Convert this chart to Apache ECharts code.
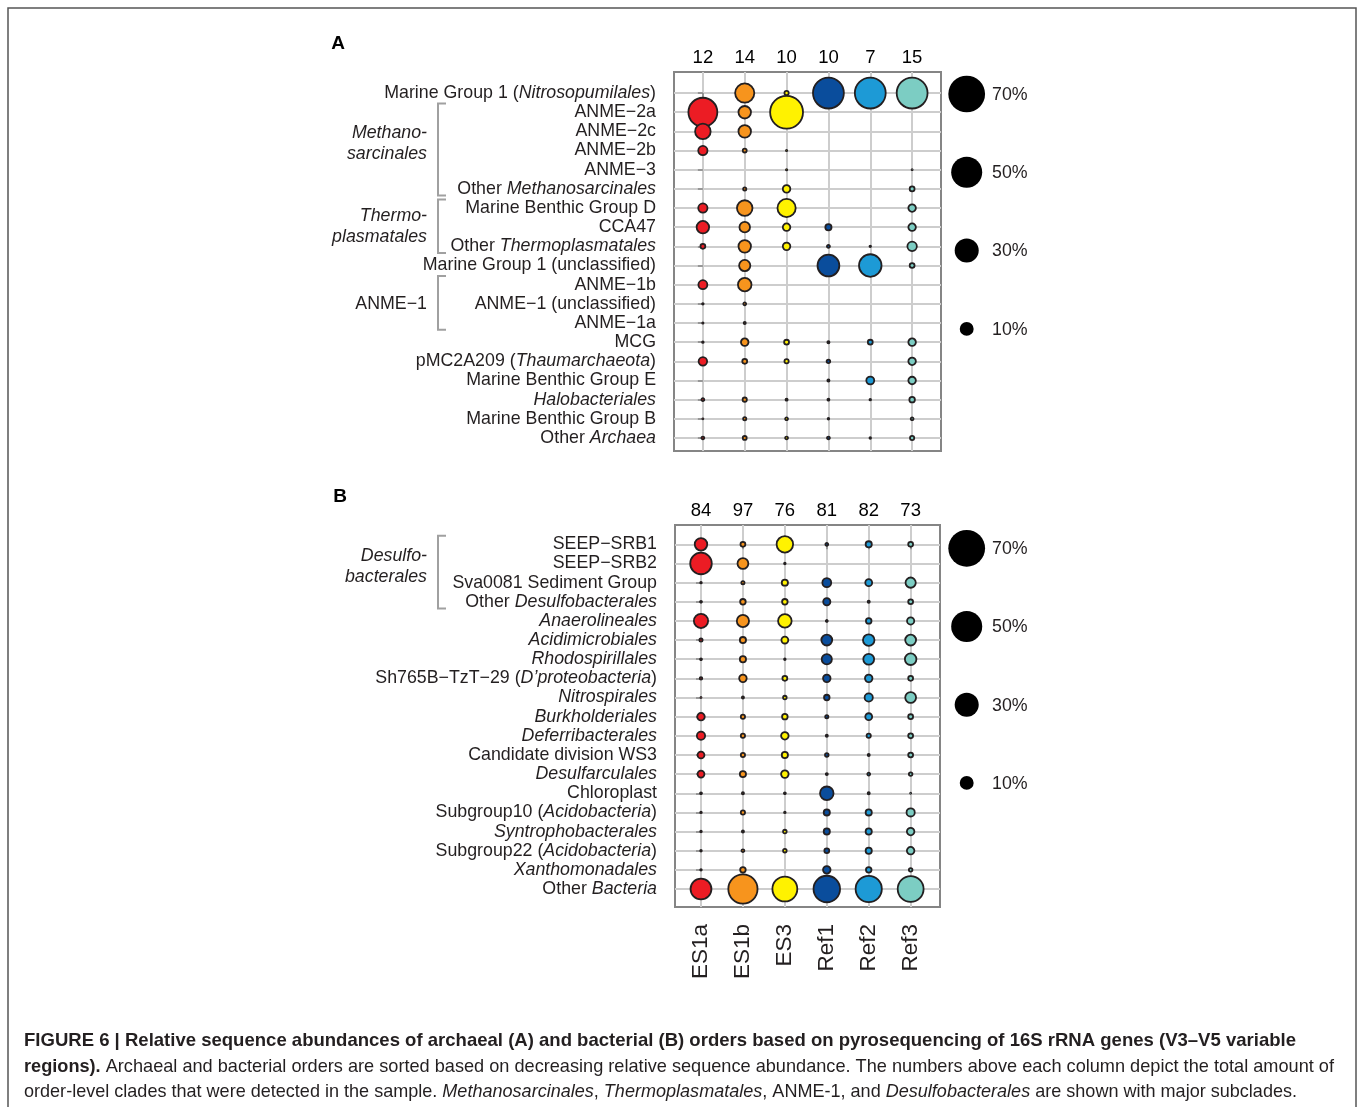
<!DOCTYPE html>
<html>
<head>
<meta charset="utf-8">
<script src="https://cdn.jsdelivr.net/npm/echarts@6/dist/echarts.min.js"></script>
<style>
  html, body { margin: 0; padding: 0; background: #fff; }
  #chart { width: 1360px; height: 1107px; }
</style>
</head>
<body>
<div id="chart"></div>
<script>
// samples (columns) and their colours
const samples = ['ES1a', 'ES1b', 'ES3', 'Ref1', 'Ref2', 'Ref3'];
const sampleColors = ['#ec1c24', '#f7941d', '#fff200', '#0a4d9c', '#1d9ad6', '#7ccdc3'];

// number of order-level clades per sample (shown above the columns)
const archaeaCounts = [12, 14, 10, 10, 7, 15];
const bacteriaCounts = [84, 97, 76, 81, 82, 73];

// row labels, {i|...} = italic part
const archaeaOrders = [
  'Marine Group 1 ({i|Nitrosopumilales})',
  'ANME\u22122a',
  'ANME\u22122c',
  'ANME\u22122b',
  'ANME\u22123',
  'Other {i|Methanosarcinales}',
  'Marine Benthic Group D',
  'CCA47',
  'Other {i|Thermoplasmatales}',
  'Marine Group 1 (unclassified)',
  'ANME\u22121b',
  'ANME\u22121 (unclassified)',
  'ANME\u22121a',
  'MCG',
  'pMC2A209 ({i|Thaumarchaeota})',
  'Marine Benthic Group E',
  '{i|Halobacteriales}',
  'Marine Benthic Group B',
  'Other {i|Archaea}'
];
const bacteriaOrders = [
  'SEEP\u2212SRB1',
  'SEEP\u2212SRB2',
  'Sva0081 Sediment Group',
  'Other {i|Desulfobacterales}',
  '{i|Anaerolineales}',
  '{i|Acidimicrobiales}',
  '{i|Rhodospirillales}',
  'Sh765B\u2212TzT\u221229 ({i|D\u2019proteobacteria})',
  '{i|Nitrospirales}',
  '{i|Burkholderiales}',
  '{i|Deferribacterales}',
  'Candidate division WS3',
  '{i|Desulfarculales}',
  'Chloroplast',
  'Subgroup10 ({i|Acidobacteria})',
  '{i|Syntrophobacterales}',
  'Subgroup22 ({i|Acidobacteria})',
  '{i|Xanthomonadales}',
  'Other {i|Bacteria}'
];

// relative sequence abundance (%), one array per sample, rows as above; 0 = not detected
const archaeaValues = [
  [0, 49, 15.6, 6.3, 0, 0, 6.3, 10.6, 2.3, 0, 6, 0.6, 0.5, 0.6, 5.5, 0, 1.1, 0.4, 1.1],      // ES1a
  [22.9, 10.6, 10.6, 1.7, 0, 1.3, 15.6, 7.9, 10.6, 8.8, 12.2, 1.1, 0.8, 4.5, 2.3, 0, 1.9, 1.3, 1.7], // ES1b
  [1.9, 62.4, 0, 0.5, 0.5, 4.5, 20.8, 4.5, 4.5, 0, 0, 0, 0, 2.3, 1.9, 0, 0.8, 1.1, 1.1],     // ES3
  [55.4, 0, 0, 0, 0, 0, 0, 3.3, 1.2, 29, 0, 0, 0, 0.8, 1.5, 0.8, 0.7, 0.6, 1.1],             // Ref1
  [55.4, 0, 0, 0, 0, 0, 0, 0, 0.6, 30.7, 0, 0, 0, 2.3, 0, 4.9, 0.6, 0, 0.6],                 // Ref2
  [55.4, 0, 0, 0, 0.4, 2.3, 4.5, 4.5, 6.6, 2.3, 0, 0, 0, 4.5, 4.5, 4.5, 2.8, 1.1, 1.9]        // Ref3
];
const bacteriaValues = [
  [10.6, 28.3, 0.6, 0.7, 13.3, 1.3, 0.7, 1, 0.4, 4.5, 5.2, 3.9, 3.9, 0.7, 0.6, 0.6, 0.6, 0.6, 26.7], // ES1a
  [2.3, 8.3, 1.3, 2.8, 10.2, 3.3, 3.3, 4.5, 0.8, 1.9, 1.9, 1.9, 3.3, 0.8, 1.9, 0.8, 1.1, 2.8, 49.9], // ES1b
  [17.4, 0.6, 3.3, 2.8, 12.2, 3.9, 0.6, 2.3, 1.5, 2.8, 4.5, 3.3, 4.5, 0.7, 0.6, 1.5, 1.5, 0, 37],    // ES3
  [1.1, 0, 5.9, 4.2, 0.7, 8.3, 7.5, 4.5, 2.8, 1.3, 0.8, 1.5, 0.8, 12.2, 3.3, 3.3, 2.3, 4.5, 41.6],  // Ref1
  [3.3, 0, 3.9, 0.8, 2.8, 9.2, 8.3, 4.5, 5.2, 3.9, 1.9, 0.8, 1.1, 0.8, 3.3, 3.3, 3.3, 2.8, 40.7],  // Ref2
  [2.3, 0, 7.5, 2.3, 4.2, 8.3, 9.2, 2.3, 8.3, 2.3, 2.3, 2.3, 1.5, 0.4, 5.2, 4.5, 4.5, 1.5, 39.8]   // Ref3
];

// size key
const sizeLegend = [70, 50, 30, 10];

// bracketed groups of rows
const archaeaGroups = [
  { text: 'Methano-\nsarcinales', italic: true, from: 1, to: 5, labelRow: 2.65 },
  { text: 'Thermo-\nplasmatales', italic: true, from: 6, to: 8, labelRow: 6.95 },
  { text: 'ANME\u22121', italic: false, from: 10, to: 12, labelRow: 11 }
];
const bacteriaGroups = [
  { text: 'Desulfo-\nbacterales', italic: true, from: 0, to: 3, labelRow: 1.15 }
];

const textColor = '#231f20';
const font = 'Liberation Sans, Arial, sans-serif';
const labelSize = 17.8;
const ring = 1.8;                          // bubble outline width
const bubble = p => 4.39 * Math.sqrt(p);   // outer diameter in px
const rowIdx = archaeaOrders.map((d, i) => i);
const colIdx = samples.map((d, i) => i);

const chart = echarts.init(document.getElementById('chart'));

function makeGrid(left, top, width, height) {
  return {
    left: left, top: top, width: width, height: height,
    show: true, borderColor: '#858585', borderWidth: 2,
    outerBoundsMode: 'none', containLabel: false
  };
}

const gridLine = { show: true, lineStyle: { color: '#cdcdcd', width: 2 } };
const tickStyle = { show: true, length: 5, inside: false, lineStyle: { color: '#858585', width: 1.5 } };

function bottomAxis(gridIndex, min, max, showNames) {
  return {
    type: 'value', gridIndex: gridIndex, position: 'bottom', min: min, max: max,
    axisLine: { show: false },
    axisTick: Object.assign({ customValues: colIdx }, tickStyle),
    axisLabel: {
      show: showNames, customValues: colIdx, rotate: 90, margin: 17,
      fontSize: 22.5, color: textColor, fontFamily: font,
      formatter: v => samples[Math.round(v)]
    },
    splitLine: gridLine
  };
}
function topAxis(gridIndex, min, max, counts) {
  return {
    type: 'value', gridIndex: gridIndex, position: 'top', min: min, max: max,
    axisLine: { show: false }, axisTick: { show: false }, splitLine: { show: false },
    axisLabel: {
      customValues: colIdx, margin: 5, fontSize: 18.5, color: '#000', fontFamily: font,
      formatter: v => counts[Math.round(v)]
    }
  };
}
function rowAxis(gridIndex, min, max, labels) {
  return {
    type: 'value', gridIndex: gridIndex, inverse: true, min: min, max: max,
    axisLine: { show: false },
    axisTick: Object.assign({ customValues: rowIdx }, tickStyle),
    axisLabel: {
      customValues: rowIdx, margin: 18, fontSize: labelSize, color: textColor, fontFamily: font,
      formatter: v => labels[Math.round(v)],
      rich: { i: { fontStyle: 'italic', fontSize: labelSize, color: textColor, fontFamily: font } }
    },
    splitLine: gridLine
  };
}

function panelSeries(values, xAxisIndex, yAxisIndex) {
  return samples.map((s, c) => ({
    name: s,
    type: 'scatter',
    xAxisIndex: xAxisIndex,
    yAxisIndex: yAxisIndex,
    silent: true,
    z: 3,
    data: values[c].map((v, r) => (v > 0 ? [c, r, v] : null)).filter(d => d),
    symbolSize: d => Math.max(bubble(d[2]) - ring, 1),
    itemStyle: { color: sampleColors[c], borderColor: textColor, borderWidth: ring, opacity: 1 }
  }));
}

chart.setOption({
  backgroundColor: '#fff',
  animation: false,
  grid: [makeGrid(674, 72, 267, 379), makeGrid(675, 525, 265, 382)],
  xAxis: [
    bottomAxis(0, -0.69, 5.69, false),
    topAxis(0, -0.69, 5.69, archaeaCounts),
    bottomAxis(1, -0.62, 5.7, true),
    topAxis(1, -0.62, 5.7, bacteriaCounts)
  ],
  yAxis: [
    rowAxis(0, -1.1, 18.68, archaeaOrders),
    rowAxis(1, -1.01, 18.94, bacteriaOrders)
  ],
  series: panelSeries(archaeaValues, 0, 0).concat(panelSeries(bacteriaValues, 2, 1))
});

// annotations: frame, panel letters, brackets, size key, caption
const graphics = [];
graphics.push({
  type: 'rect', silent: true, z: 0,
  shape: { x: 8, y: 8, width: 1348, height: 1130 },
  style: { fill: 'none', stroke: '#555', lineWidth: 1.5 }
});
graphics.push({ type: 'text', x: 338, y: 44, style: { text: 'A', font: 'bold 19px ' + font, fill: '#000', align: 'center', verticalAlign: 'middle' } });
graphics.push({ type: 'text', x: 340, y: 497, style: { text: 'B', font: 'bold 19px ' + font, fill: '#000', align: 'center', verticalAlign: 'middle' } });

function addBrackets(groups, yAxisIndex) {
  groups.forEach(g => {
    const top = chart.convertToPixel({ yAxisIndex: yAxisIndex }, g.from - 0.45);
    const bottom = chart.convertToPixel({ yAxisIndex: yAxisIndex }, g.to + 0.35);
    graphics.push({
      type: 'polyline', silent: true,
      shape: { points: [[446, top], [438, top], [438, bottom], [446, bottom]] },
      style: { stroke: '#a0a0a0', lineWidth: 2, fill: 'none' }
    });
    graphics.push({
      type: 'text', x: 427, y: chart.convertToPixel({ yAxisIndex: yAxisIndex }, g.labelRow),
      style: {
        text: g.text, fill: textColor, align: 'right', verticalAlign: 'middle', lineHeight: 21,
        font: (g.italic ? 'italic ' : '') + labelSize + 'px ' + font
      }
    });
  });
}
addBrackets(archaeaGroups, 0);
addBrackets(bacteriaGroups, 1);

function addSizeKey(y0, step) {
  sizeLegend.forEach((p, i) => {
    const y = y0 + i * step;
    graphics.push({ type: 'circle', silent: true, shape: { cx: 966.7, cy: y, r: bubble(p) / 2 }, style: { fill: '#000' } });
    graphics.push({ type: 'text', x: 992, y: y + 1, style: { text: p + '%', font: labelSize + 'px ' + font, fill: textColor, verticalAlign: 'middle' } });
  });
}
addSizeKey(94, 78.3);
addSizeKey(548.3, 78.2);

// caption, each line condensed to the width it has in print
const capLines = [
  [['bold', 'normal', 'FIGURE 6 | Relative sequence abundances of archaeal (A) and bacterial (B) orders based on pyrosequencing of 16S rRNA genes (V3\u2013V5 variable']],
  [['bold', 'normal', 'regions).'], ['normal', 'normal', ' Archaeal and bacterial orders are sorted based on decreasing relative sequence abundance. The numbers above each column depict the total amount of']],
  [['normal', 'normal', 'order-level clades that were detected in the sample. '], ['normal', 'italic', 'Methanosarcinales'], ['normal', 'normal', ', '], ['normal', 'italic', 'Thermoplasmatales'], ['normal', 'normal', ', ANME-1, and '], ['normal', 'italic', 'Desulfobacterales'], ['normal', 'normal', ' are shown with major subclades.']]
];
const capWidths = [1272, 1310, 1273];
const capY = [1041, 1067, 1092];
const capSize = 18.5;
const ctx = document.createElement('canvas').getContext('2d');
function segWidth(seg) {
  ctx.font = seg[1] + ' ' + seg[0] + ' ' + capSize + 'px ' + font;
  return ctx.measureText(seg[2]).width;
}
capLines.forEach((line, li) => {
  const scale = capWidths[li] / line.reduce((s, seg) => s + segWidth(seg), 0);
  let x = 24;
  line.forEach(seg => {
    graphics.push({
      type: 'text', x: x, y: capY[li], scaleX: scale, silent: true,
      style: {
        text: seg[2], fill: textColor, verticalAlign: 'middle',
        font: seg[1] + ' ' + seg[0] + ' ' + capSize + 'px ' + font
      }
    });
    x += segWidth(seg) * scale;
  });
});

chart.setOption({ graphic: graphics });
</script>
</body>
</html>
